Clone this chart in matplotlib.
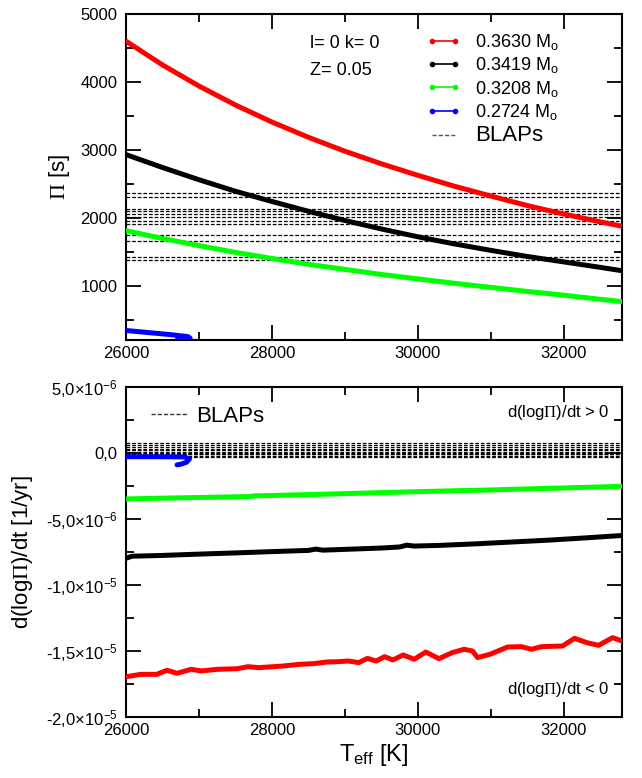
import matplotlib
matplotlib.use("Agg")
import matplotlib.pyplot as plt
from matplotlib.lines import Line2D
from matplotlib.ticker import MultipleLocator, FixedLocator

plt.rcParams['font.family'] = ['Liberation Sans', 'DejaVu Sans']
plt.rcParams['mathtext.fontset'] = 'custom'
plt.rcParams['mathtext.rm'] = 'Liberation Serif'
plt.rcParams['mathtext.sf'] = 'Liberation Sans'
plt.rcParams['mathtext.it'] = 'Liberation Sans:italic'
plt.rcParams['mathtext.bf'] = 'Liberation Sans:bold'

# ---------------- data ----------------
mass_labels = [r'0.3630 M$_{\mathsf{o}}$', r'0.3419 M$_{\mathsf{o}}$',
               r'0.3208 M$_{\mathsf{o}}$', r'0.2724 M$_{\mathsf{o}}$']
colors = ['#ff0000', '#000000', '#00ff00', '#0000ff']

# Top panel: period Pi [s] vs Teff
teff_p = [26000, 26500, 27000, 27500, 28000, 28500, 29000, 29500, 30000,
          30500, 31000, 31500, 32000, 32500, 32800]
pi_red = [4600, 4250, 3940, 3660, 3410, 3185, 2980, 2795, 2625,
          2465, 2320, 2180, 2055, 1940, 1875]
pi_black = [2930, 2740, 2560, 2390, 2240, 2095, 1960, 1835, 1720,
            1615, 1520, 1430, 1350, 1270, 1220]
pi_green = [1810, 1695, 1590, 1490, 1400, 1315, 1240, 1165, 1100,
            1035, 975, 915, 860, 800, 765]
teff_blue_p = [26000, 26300, 26600, 26850, 26880, 26830, 26750, 26700]
pi_blue = [340, 310, 280, 250, 225, 205, 200, 200]

blap_periods = [2370, 2310, 2130, 2100, 2060, 2010, 1945, 1905, 1740, 1665, 1420, 1380]

# Bottom panel: d(log Pi)/dt [1/yr] vs Teff
teff_red_d = [26000, 26200, 26420, 26560, 26700, 26890, 27030, 27250, 27530, 27670,
              27820, 28150, 28380, 28570, 28760, 28900, 29050, 29190, 29310, 29430,
              29545, 29660, 29800, 29950, 30110, 30290, 30470, 30635, 30750, 30820,
              30990, 31230, 31420, 31560, 31700, 31985, 32150, 32320, 32480, 32670, 32800]
dpi_red = [-16.95e-6, -16.77e-6, -16.77e-6, -16.46e-6, -16.69e-6, -16.39e-6, -16.51e-6,
           -16.39e-6, -16.34e-6, -16.19e-6, -16.26e-6, -16.14e-6, -16.01e-6, -15.96e-6,
           -15.83e-6, -15.81e-6, -15.76e-6, -15.88e-6, -15.56e-6, -15.76e-6, -15.43e-6,
           -15.68e-6, -15.30e-6, -15.63e-6, -15.08e-6, -15.58e-6, -15.13e-6, -14.87e-6,
           -15.00e-6, -15.50e-6, -15.25e-6, -14.70e-6, -14.67e-6, -14.87e-6, -14.67e-6,
           -14.62e-6, -14.04e-6, -14.37e-6, -14.57e-6, -13.99e-6, -14.24e-6]
teff_black_d = [26000, 26080, 26500, 27000, 27500, 28000, 28500, 28600, 28700, 29000,
                29500, 29750, 29850, 29950, 30300, 30800, 31300, 31800, 32300, 32800]
dpi_black = [-7.98e-6, -7.82e-6, -7.76e-6, -7.66e-6, -7.57e-6, -7.47e-6, -7.38e-6,
             -7.28e-6, -7.36e-6, -7.30e-6, -7.20e-6, -7.12e-6, -6.98e-6, -7.05e-6,
             -7.00e-6, -6.88e-6, -6.74e-6, -6.60e-6, -6.43e-6, -6.25e-6]
teff_green_d = [26000, 26500, 27000, 27500, 27700, 27750, 28000, 28500, 29000, 29500,
                30000, 30500, 31000, 31500, 32000, 32500, 32800]
dpi_green = [-3.48e-6, -3.42e-6, -3.37e-6, -3.32e-6, -3.30e-6, -3.25e-6, -3.22e-6,
             -3.15e-6, -3.08e-6, -3.00e-6, -2.93e-6, -2.86e-6, -2.80e-6, -2.72e-6,
             -2.65e-6, -2.57e-6, -2.52e-6]
teff_blue_d = [26000, 26400, 26800, 26870, 26830, 26750, 26700]
dpi_blue = [-0.28e-6, -0.28e-6, -0.30e-6, -0.45e-6, -0.70e-6, -0.85e-6, -0.90e-6]

blap_rates = [0.75e-6, 0.6e-6, 0.42e-6, 0.3e-6, 0.2e-6, 0.1e-6, 0.02e-6,
              -0.05e-6, -0.1e-6, -0.2e-6, -0.3e-6]

x_ticks = [26000, 28000, 30000, 32000]
x_ticklabels = ['26000', '28000', '30000', '32000']
bot_yticks = [-2.0e-5, -1.5e-5, -1.0e-5, -5.0e-6, 0.0, 5.0e-6]
bot_yticklabels = [r'-2,0×10$^{\mathsf{-5}}$', r'-1,5×10$^{\mathsf{-5}}$',
                   r'-1,0×10$^{\mathsf{-5}}$', r'-5,0×10$^{\mathsf{-6}}$',
                   '0,0', r'5,0×10$^{\mathsf{-6}}$']

# ---------------- figure ----------------
W, H = 642, 778
fig = plt.figure(figsize=(W / 100, H / 100), dpi=100)
L = 126 / W
Wd = (622 - 126) / W
ax1 = fig.add_axes([L, 1 - 340 / H, Wd, (340 - 14) / H])
ax2 = fig.add_axes([L, 1 - 717 / H, Wd, (717 - 387) / H])

lw = 3.6
line_kw = dict(lw=lw, zorder=3, solid_joinstyle='round', solid_capstyle='round')
for ax in (ax1, ax2):
    for s in ax.spines.values():
        s.set_linewidth(1.5)
    ax.set_xlim(26000, 32800)
    ax.xaxis.set_major_locator(FixedLocator(x_ticks))
    ax.set_xticklabels(x_ticklabels)
    ax.xaxis.set_minor_locator(MultipleLocator(1000))
    ax.tick_params(which='both', direction='in', top=True, right=True,
                   labelsize=12, width=1.3)
    ax.tick_params(which='major', length=11)
    ax.tick_params(which='minor', length=5.5)
    ax.tick_params(axis='x', pad=4)
    ax.tick_params(axis='y', pad=6)

# top panel
ax1.set_ylim(200, 5000)
ax1.yaxis.set_major_locator(MultipleLocator(1000))
ax1.yaxis.set_minor_locator(MultipleLocator(500))
for p in blap_periods:
    ax1.axhline(p, color='black', lw=0.9, ls=(0, (3, 1.5)), zorder=1)
ax1.plot(teff_p, pi_red, color=colors[0], **line_kw)
ax1.plot(teff_p, pi_black, color=colors[1], **line_kw)
ax1.plot(teff_p, pi_green, color=colors[2], **line_kw)
ax1.plot(teff_blue_p, pi_blue, color=colors[3], **line_kw)
ax1.set_ylabel(r'$\Pi$ [s]', fontsize=16, labelpad=6)
ax1.text(0.37, 0.908, 'l= 0 k= 0', transform=ax1.transAxes, fontsize=13, va='center')
ax1.text(0.37, 0.828, 'Z= 0.05', transform=ax1.transAxes, fontsize=13, va='center')

handles = [Line2D([0, 1], [0, 0], color=c, lw=1.2, marker='o', markersize=3)
           for c in colors]
handles.append(Line2D([0, 1], [0, 0], color='#555555', lw=1, ls=(0, (3, 1.5))))
leg = ax1.legend(handles, mass_labels + ['BLAPs'], loc='upper left',
                 bbox_to_anchor=(0.58, 0.983), frameon=False, numpoints=2,
                 fontsize=13, handlelength=1.9, handletextpad=0.8,
                 labelspacing=0.18, borderpad=0.2)
leg.get_texts()[4].set_fontsize(16)

# bottom panel
ax2.set_ylim(-2.0e-5, 5.0e-6)
ax2.yaxis.set_major_locator(FixedLocator(bot_yticks))
ax2.set_yticklabels(bot_yticklabels)
ax2.yaxis.set_minor_locator(MultipleLocator(2.5e-6))
for r in blap_rates:
    ax2.axhline(r, color='black', lw=0.9, ls=(0, (3, 1.5)), zorder=1)
ax2.plot(teff_red_d, dpi_red, color=colors[0], **line_kw)
ax2.plot(teff_black_d, dpi_black, color=colors[1], **line_kw)
ax2.plot(teff_green_d, dpi_green, color=colors[2], **line_kw)
ax2.plot(teff_blue_d, dpi_blue, color=colors[3], **line_kw)
ax2.set_ylabel(r'd(log$\Pi$)/dt [1/yr]', fontsize=16, labelpad=8)
ax2.set_xlabel(r'T$_{\mathsf{eff}}$ [K]', fontsize=17, labelpad=3)
ax2.text(0.975, 0.924, r'd(log$\Pi$)/dt > 0', transform=ax2.transAxes,
         fontsize=12, ha='right', va='center')
ax2.text(0.975, 0.082, r'd(log$\Pi$)/dt < 0', transform=ax2.transAxes,
         fontsize=12, ha='right', va='center')
leg2 = ax2.legend([Line2D([0, 1], [0, 0], color='#333333', lw=1, ls=(0, (3, 1.5)))],
                  ['BLAPs'], loc='upper left', bbox_to_anchor=(0.02, 0.99),
                  frameon=False, fontsize=16, handlelength=1.6,
                  handletextpad=0.4, borderpad=0.2)

fig.savefig('out.png', dpi=100)
